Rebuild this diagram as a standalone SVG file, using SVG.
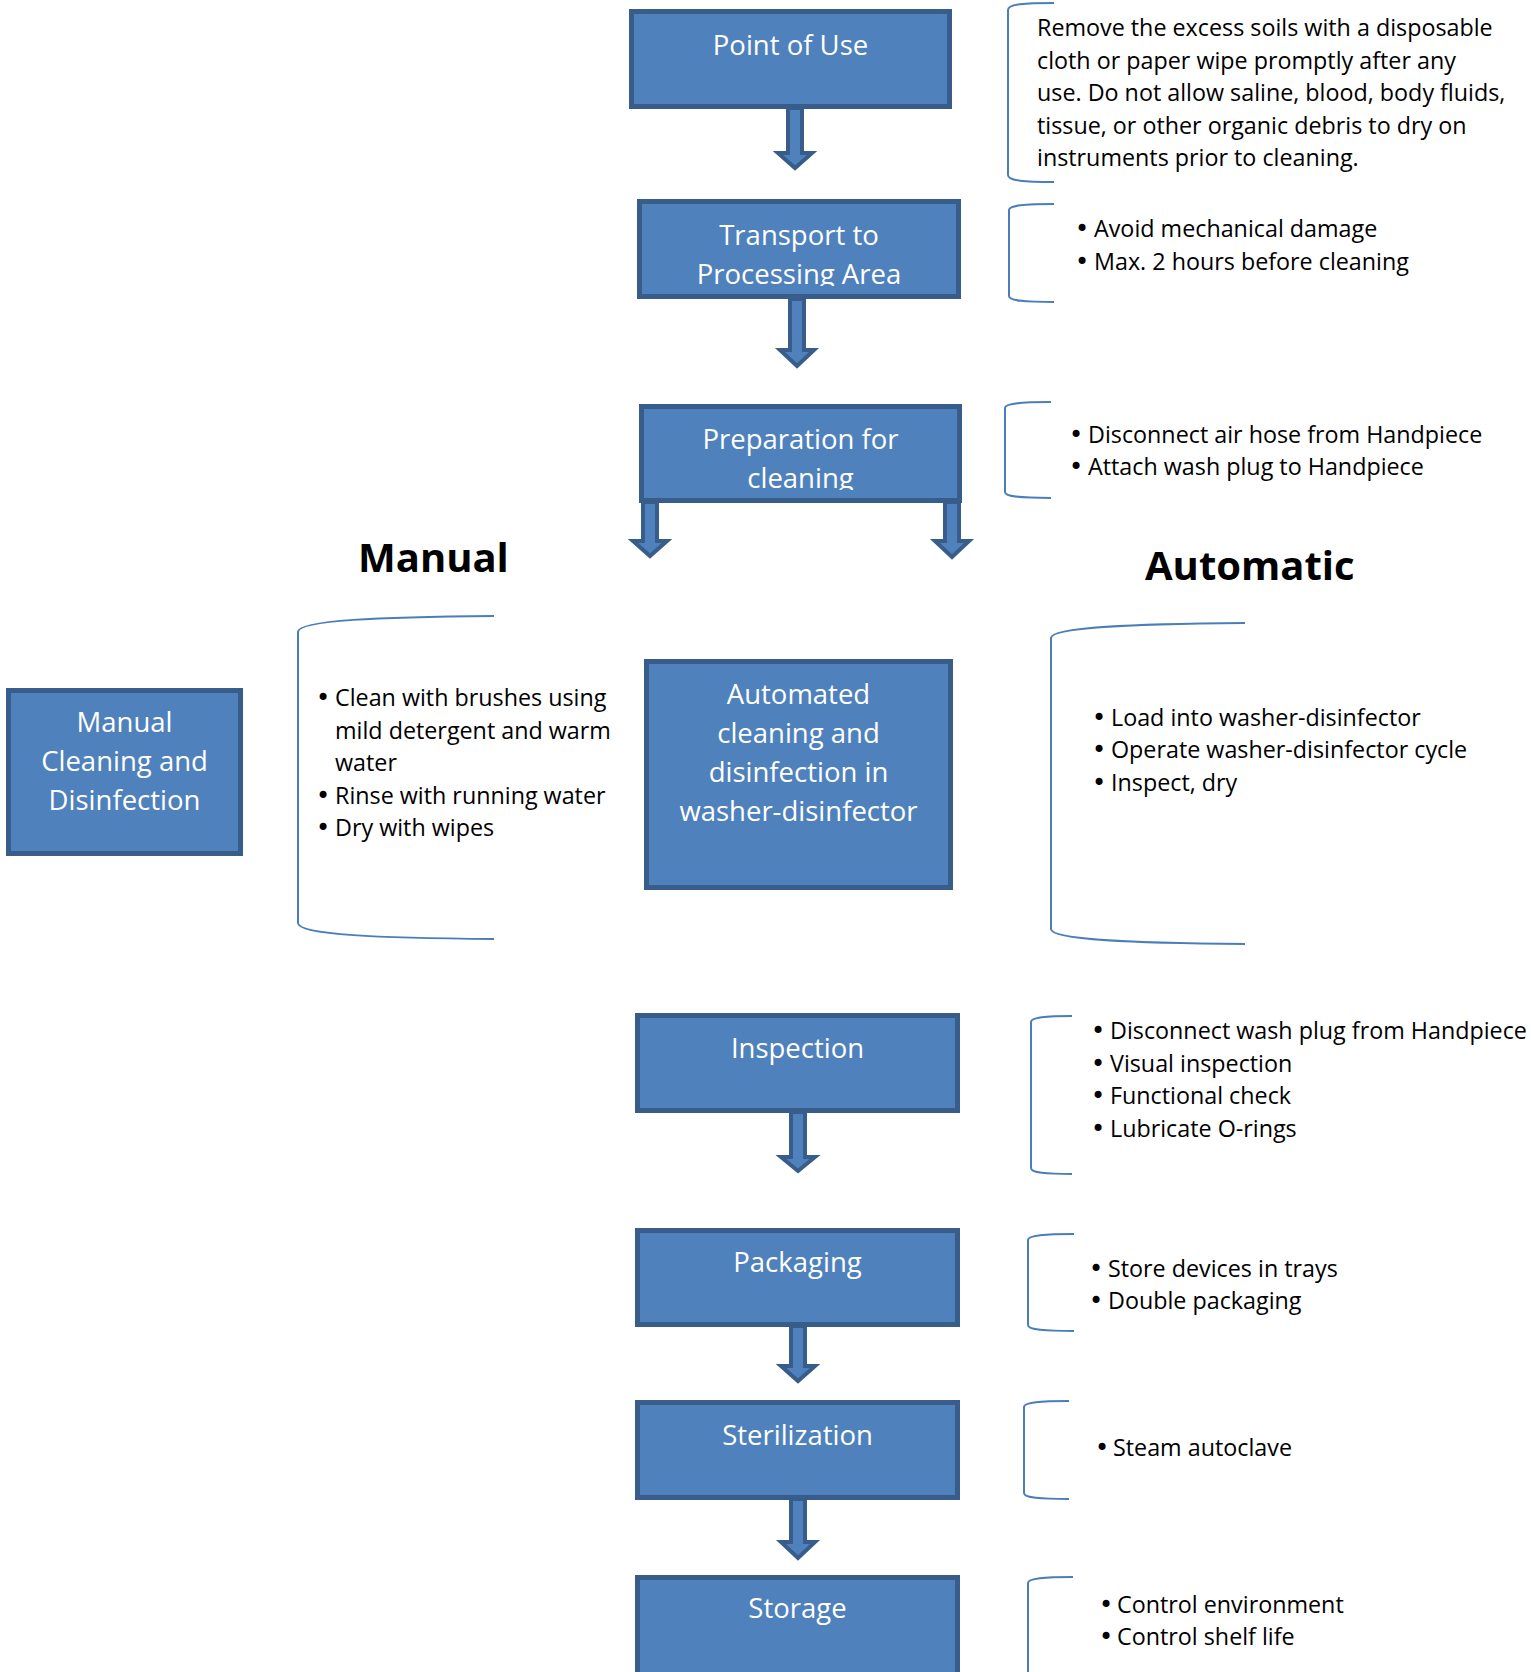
<svg xmlns="http://www.w3.org/2000/svg" width="1531" height="1672" viewBox="0 0 1531 1672">
<style>
.box{fill:#4f81bd;stroke:#385d8a;stroke-width:5}
.lbl{font-family:"Open Sans","DejaVu Sans",sans-serif;font-size:27.5px;fill:#ffffff;text-anchor:middle}
.txt{font-family:"Open Sans","DejaVu Sans",sans-serif;font-size:23.3px;fill:#000000}
.bul{font-family:"DejaVu Sans",sans-serif;font-size:24px;fill:#000000}
.hd{font-family:"Open Sans","DejaVu Sans",sans-serif;font-size:40px;font-weight:bold;fill:#000000}
.br{fill:none;stroke:#4a7ebb;stroke-width:2}
.arr{fill:#4f81bd;stroke:#385d8a;stroke-width:4;stroke-linejoin:miter}
</style>
<defs>
<clipPath id="clipT"><rect x="640" y="200" width="320" height="86"/></clipPath>
<clipPath id="clipP"><rect x="640" y="405" width="320" height="85"/></clipPath>
</defs>
<rect width="1531" height="1672" fill="#ffffff"/>

<g id="connectors">
<path class="arr" d="M788,108 H802 V153 H812 L795,168 L778,153 H788 Z"/>
<path class="arr" d="M790,299 H804 V350 H814 L797,366 L780,350 H790 Z"/>
<path class="arr" d="M643,502 H657 V541 H667 L650,556 L633,541 H643 Z"/>
<path class="arr" d="M945,502 H959 V541 H969 L952,557 L935,541 H945 Z"/>
<path class="arr" d="M791,1112 H805 V1157 H815 L798,1171 L781,1157 H791 Z"/>
<path class="arr" d="M791,1326 H805 V1366 H815 L798,1381 L781,1366 H791 Z"/>
<path class="arr" d="M791,1499 H805 V1542 H815 L798,1558 L781,1542 H791 Z"/>
</g>

<g id="point-of-use">
<rect class="box" x="631.5" y="11.5" width="318" height="95"/>
<text class="lbl" x="790.5" y="55">Point of Use</text>
</g>

<g id="transport">
<rect class="box" x="639.5" y="201.5" width="319" height="95"/>
<g clip-path="url(#clipT)">
<text class="lbl" x="799" y="245">Transport to</text>
<text class="lbl" x="799" y="284">Processing Area</text>
</g>
</g>

<g id="preparation">
<rect class="box" x="641.5" y="406.5" width="318" height="94"/>
<g clip-path="url(#clipP)">
<text class="lbl" x="800.5" y="449">Preparation for</text>
<text class="lbl" x="800.5" y="488">cleaning</text>
</g>
</g>

<g id="manual-cleaning">
<rect class="box" x="8.5" y="690.5" width="232" height="163"/>
<text class="lbl" x="124.5" y="732">Manual</text>
<text class="lbl" x="124.5" y="771">Cleaning and</text>
<text class="lbl" x="124.5" y="810">Disinfection</text>
</g>

<g id="automated-cleaning">
<rect class="box" x="646.5" y="661.5" width="304" height="226"/>
<text class="lbl" x="798.5" y="704">Automated</text>
<text class="lbl" x="798.5" y="743">cleaning and</text>
<text class="lbl" x="798.5" y="782">disinfection in</text>
<text class="lbl" x="798.5" y="821">washer-disinfector</text>
</g>

<g id="inspection">
<rect class="box" x="637.5" y="1015.5" width="320" height="95"/>
<text class="lbl" x="797.5" y="1058">Inspection</text>
</g>

<g id="packaging">
<rect class="box" x="637.5" y="1230.5" width="320" height="94"/>
<text class="lbl" x="797.5" y="1272">Packaging</text>
</g>

<g id="sterilization">
<rect class="box" x="637.5" y="1402.5" width="320" height="95"/>
<text class="lbl" x="797.5" y="1445">Sterilization</text>
</g>

<g id="storage">
<rect class="box" x="637.5" y="1577.5" width="320" height="120"/>
<text class="lbl" x="797.5" y="1618">Storage</text>
</g>

<g id="heading-manual"><text class="hd" x="358" y="572">Manual</text></g>
<g id="heading-automatic"><text class="hd" x="1145" y="580">Automatic</text></g>

<g id="note-point-of-use">
<path class="br" d="M1054,3 C1025,3 1008,4 1008,10 V175 C1008,181 1025,182 1054,182"/>
<text class="txt" x="1037" y="36">Remove the excess soils with a disposable</text>
<text class="txt" x="1037" y="68.5">cloth or paper wipe promptly after any</text>
<text class="txt" x="1037" y="101">use. Do not allow saline, blood, body fluids,</text>
<text class="txt" x="1037" y="133.5">tissue, or other organic debris to dry on</text>
<text class="txt" x="1037" y="166">instruments prior to cleaning.</text>
</g>

<g id="note-transport">
<path class="br" d="M1054,204 C1025,204 1009,205 1009,210 V296 C1009,301 1025,302 1054,302"/>
<text class="bul" x="1075" y="237">•</text><text class="txt" x="1094" y="237">Avoid mechanical damage</text>
<text class="bul" x="1075" y="270">•</text><text class="txt" x="1094" y="270">Max. 2 hours before cleaning</text>
</g>

<g id="note-preparation">
<path class="br" d="M1051,402 C1022,402 1005,403 1005,408 V492 C1005,497 1022,498 1051,498"/>
<text class="bul" x="1069" y="443">•</text><text class="txt" x="1088" y="443">Disconnect air hose from Handpiece</text>
<text class="bul" x="1069" y="475">•</text><text class="txt" x="1088" y="475">Attach wash plug to Handpiece</text>
</g>

<g id="note-manual">
<path class="br" d="M494,616 C380,617 298,620 298,632 V923 C298,935 380,938 494,939"/>
<text class="bul" x="316" y="706">•</text><text class="txt" x="335" y="706">Clean with brushes using</text>
<text class="txt" x="335" y="739">mild detergent and warm</text>
<text class="txt" x="335" y="771">water</text>
<text class="bul" x="316" y="804">•</text><text class="txt" x="335" y="804">Rinse with running water</text>
<text class="bul" x="316" y="836">•</text><text class="txt" x="335" y="836">Dry with wipes</text>
</g>

<g id="note-automatic">
<path class="br" d="M1245,623 C1133,624 1051,627 1051,638 V929 C1051,940 1133,943 1245,944"/>
<text class="bul" x="1092" y="726">•</text><text class="txt" x="1111" y="726">Load into washer-disinfector</text>
<text class="bul" x="1092" y="758">•</text><text class="txt" x="1111" y="758">Operate washer-disinfector cycle</text>
<text class="bul" x="1092" y="791">•</text><text class="txt" x="1111" y="791">Inspect, dry</text>
</g>

<g id="note-inspection">
<path class="br" d="M1072,1016 C1046,1016 1031,1017 1031,1022 V1168 C1031,1173 1046,1174 1072,1174"/>
<text class="bul" x="1091" y="1039">•</text><text class="txt" x="1110" y="1039">Disconnect wash plug from Handpiece</text>
<text class="bul" x="1091" y="1072">•</text><text class="txt" x="1110" y="1072">Visual inspection</text>
<text class="bul" x="1091" y="1104">•</text><text class="txt" x="1110" y="1104">Functional check</text>
<text class="bul" x="1091" y="1137">•</text><text class="txt" x="1110" y="1137">Lubricate O-rings</text>
</g>

<g id="note-packaging">
<path class="br" d="M1074,1234 C1045,1234 1028,1235 1028,1240 V1325 C1028,1330 1045,1331 1074,1331"/>
<text class="bul" x="1089" y="1277">•</text><text class="txt" x="1108" y="1277">Store devices in trays</text>
<text class="bul" x="1089" y="1309">•</text><text class="txt" x="1108" y="1309">Double packaging</text>
</g>

<g id="note-sterilization">
<path class="br" d="M1069,1401 C1040,1401 1024,1402 1024,1407 V1493 C1024,1498 1040,1499 1069,1499"/>
<text class="bul" x="1095" y="1456">•</text><text class="txt" x="1113" y="1456">Steam autoclave</text>
</g>

<g id="note-storage">
<path class="br" d="M1073,1577 C1044,1577 1028,1578 1028,1583 V1680"/>
<text class="bul" x="1099" y="1613">•</text><text class="txt" x="1117" y="1613">Control environment</text>
<text class="bul" x="1099" y="1645">•</text><text class="txt" x="1117" y="1645">Control shelf life</text>
</g>
</svg>
